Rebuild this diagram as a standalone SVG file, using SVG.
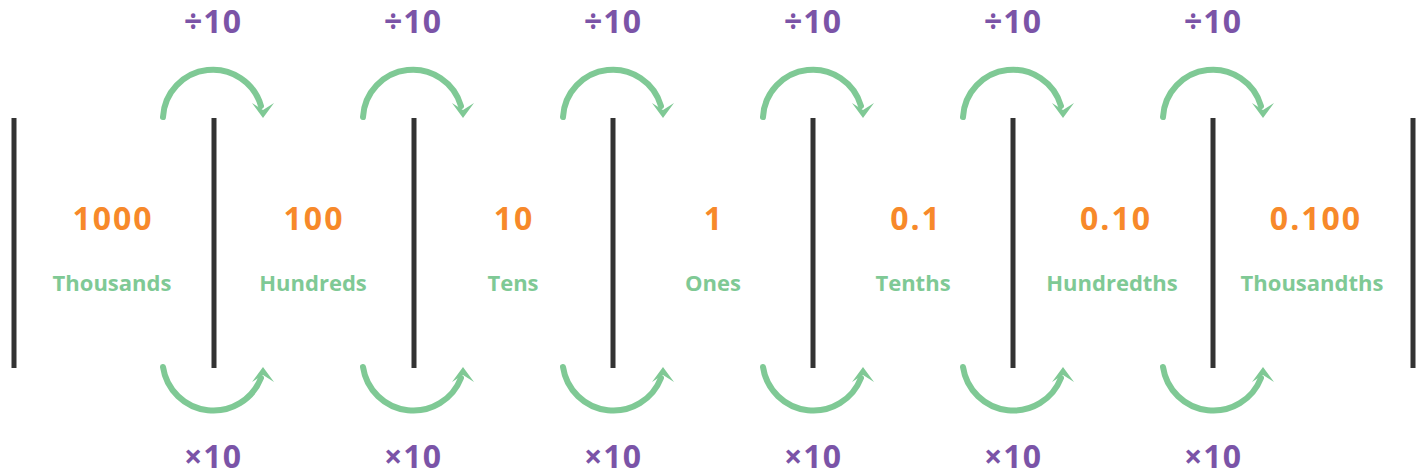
<svg xmlns="http://www.w3.org/2000/svg" xmlns:xlink="http://www.w3.org/1999/xlink" width="1418" height="476" viewBox="0 0 1418 476">
<style>
.bar{stroke:#333333;stroke-width:5;}
.arc{fill:none;stroke:#7fc995;stroke-width:6;stroke-linecap:round;}
.head{fill:#7fc995;}
.op{font-family:"Open Sans","Noto Sans",sans-serif;font-weight:700;font-size:32px;fill:#7b54a7;text-anchor:middle;letter-spacing:1px;}
.num{font-family:"Open Sans","Noto Sans",sans-serif;font-weight:700;font-size:32px;fill:#f7892a;text-anchor:middle;letter-spacing:2px;}
.lbl{font-family:"Open Sans","Noto Sans",sans-serif;font-weight:700;font-size:22px;fill:#7fc995;text-anchor:middle;}
</style>
<defs>
<g id="up">
<path class="arc" d="M-50,0 A50,50 0 0 1 48,-11"/>
<polygon class="head" points="50,1 39,-14 50,-7 61,-14"/>
</g>
<g id="down">
<path class="arc" d="M-50,0 A51,51 0 0 0 48,11"/>
<polygon class="head" points="50,0 39,15 50,8 61,15"/>
</g>
</defs>
<g id="bars">
<line class="bar" x1="14" y1="118" x2="14" y2="368"/>
<line class="bar" x1="214" y1="118" x2="214" y2="368"/>
<line class="bar" x1="414" y1="118" x2="414" y2="368"/>
<line class="bar" x1="613" y1="118" x2="613" y2="368"/>
<line class="bar" x1="813" y1="118" x2="813" y2="368"/>
<line class="bar" x1="1013" y1="118" x2="1013" y2="368"/>
<line class="bar" x1="1213" y1="118" x2="1213" y2="368"/>
<line class="bar" x1="1413" y1="118" x2="1413" y2="368"/>
</g>
<g id="connectors">
<use xlink:href="#up" transform="translate(213,117)"/>
<use xlink:href="#up" transform="translate(413,117)"/>
<use xlink:href="#up" transform="translate(613,117)"/>
<use xlink:href="#up" transform="translate(813,117)"/>
<use xlink:href="#up" transform="translate(1013,117)"/>
<use xlink:href="#up" transform="translate(1213,117)"/>
<use xlink:href="#down" transform="translate(213,367)"/>
<use xlink:href="#down" transform="translate(413,367)"/>
<use xlink:href="#down" transform="translate(613,367)"/>
<use xlink:href="#down" transform="translate(813,367)"/>
<use xlink:href="#down" transform="translate(1013,367)"/>
<use xlink:href="#down" transform="translate(1213,367)"/>
</g>
<g id="ops">
<text class="op" x="213" y="33">÷10</text>
<text class="op" x="413" y="33">÷10</text>
<text class="op" x="613" y="33">÷10</text>
<text class="op" x="813" y="33">÷10</text>
<text class="op" x="1013" y="33">÷10</text>
<text class="op" x="1213" y="33">÷10</text>
<text class="op" x="213" y="468">×10</text>
<text class="op" x="413" y="468">×10</text>
<text class="op" x="613" y="468">×10</text>
<text class="op" x="813" y="468">×10</text>
<text class="op" x="1013" y="468">×10</text>
<text class="op" x="1213" y="468">×10</text>
</g>
<g id="col-thousands"><text class="num" x="113" y="230">1000</text><text class="lbl" x="112" y="291">Thousands</text></g>
<g id="col-hundreds"><text class="num" x="314" y="230">100</text><text class="lbl" x="313" y="291">Hundreds</text></g>
<g id="col-tens"><text class="num" x="514" y="230">10</text><text class="lbl" x="513" y="291">Tens</text></g>
<g id="col-ones"><text class="num" x="714" y="230">1</text><text class="lbl" x="713" y="291">Ones</text></g>
<g id="col-tenths"><text class="num" x="916" y="230">0.1</text><text class="lbl" x="913" y="291">Tenths</text></g>
<g id="col-hundredths"><text class="num" x="1116" y="230">0.10</text><text class="lbl" x="1112" y="291">Hundredths</text></g>
<g id="col-thousandths"><text class="num" x="1316" y="230">0.100</text><text class="lbl" x="1312" y="291">Thousandths</text></g>
</svg>
